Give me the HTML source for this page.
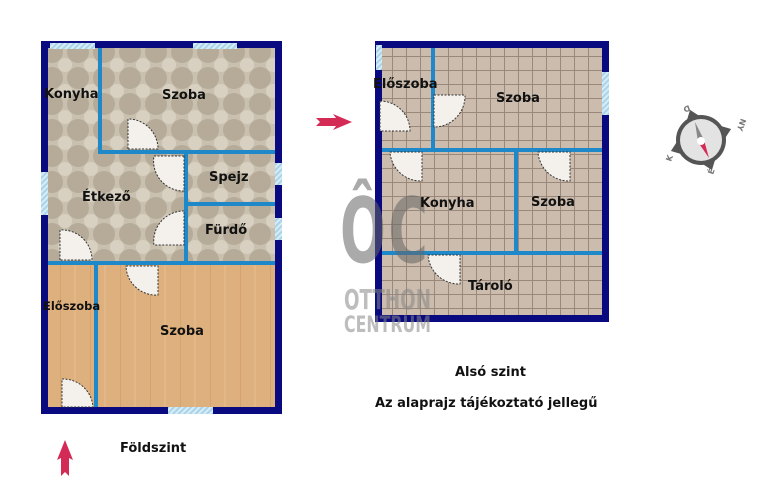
<!DOCTYPE html>
<html><head><meta charset="utf-8"><style>
html,body{margin:0;padding:0;background:#fff;width:776px;height:500px;overflow:hidden}
svg{display:block}
text{font-family:"DejaVu Sans","Liberation Sans",sans-serif;font-weight:bold;fill:#111}
</style></head><body>
<svg width="776" height="500" viewBox="0 0 776 500" xmlns="http://www.w3.org/2000/svg">
<defs>
<pattern id="tile" width="26" height="26" patternUnits="userSpaceOnUse">
<rect width="26" height="26" fill="#c9c0af"/>
<circle cx="0" cy="0" r="11" fill="#b5ab98"/><circle cx="26" cy="0" r="11" fill="#b5ab98"/>
<circle cx="0" cy="26" r="11" fill="#b5ab98"/><circle cx="26" cy="26" r="11" fill="#b5ab98"/>
<circle cx="13" cy="13" r="7" fill="#d8d1c2"/>
</pattern>
<pattern id="wood" width="30" height="60" patternUnits="userSpaceOnUse">
<rect width="30" height="60" fill="#deb07d"/>
<rect x="0" width="1" height="60" fill="#d3a372"/><rect x="14" width="2" height="60" fill="#e3b888"/>
</pattern>
<pattern id="grid" width="14" height="14" patternUnits="userSpaceOnUse">
<rect width="14" height="14" fill="#cbbcad"/>
<rect width="14" height="1" fill="#9a887a"/><rect width="1" height="14" fill="#9a887a"/>
</pattern>
<pattern id="win" width="4" height="4" patternUnits="userSpaceOnUse" patternTransform="rotate(45)">
<rect width="4" height="4" fill="#a8d4ea"/><rect width="2" height="4" fill="#d8ecf6"/>
</pattern>
</defs>

<rect x="41" y="41" width="241" height="373" fill="#0a0a80"/>
<rect x="48" y="48" width="227" height="215" fill="url(#tile)"/>
<rect x="48" y="263" width="227" height="144" fill="url(#wood)"/>
<rect x="50" y="43" width="45" height="6" fill="url(#win)"/>
<rect x="193" y="43" width="44" height="6" fill="url(#win)"/>
<rect x="275" y="163" width="7" height="22" fill="url(#win)"/>
<rect x="275" y="218" width="7" height="22" fill="url(#win)"/>
<rect x="41" y="172" width="7" height="43" fill="url(#win)"/>
<rect x="168" y="407" width="45" height="7" fill="url(#win)"/>
<g fill="#1e88c8">
<rect x="98" y="48" width="4" height="106"/>
<rect x="98" y="150" width="177" height="4"/>
<rect x="184" y="150" width="4" height="115"/>
<rect x="184" y="202" width="91" height="4"/>
<rect x="48" y="261" width="227" height="4"/>
<rect x="94" y="261" width="4" height="146"/>
</g>
<g fill="#f4f1ec" stroke="#333" stroke-width="1" stroke-dasharray="2,1.5">
<path d="M128 149 V119 A30 30 0 0 1 158 149 Z"/>
<path d="M184 156 H154 A30 30 0 0 0 184 191 Z"/>
<path d="M184 211 A30 30 0 0 0 154 245 H184 Z"/>
<path d="M60 260 V230 A30 30 0 0 1 92 260 Z"/>
<path d="M126 266 H158 V295 A30 30 0 0 1 126 266 Z"/>
<path d="M62 407 V379 A30 30 0 0 1 93 407 Z"/>
</g>
<text x="44" y="98" font-size="13">Konyha</text>
<text x="162" y="99" font-size="13">Szoba</text>
<text x="209" y="181" font-size="13">Spejz</text>
<text x="82" y="201" font-size="13">Étkező</text>
<text x="205" y="234" font-size="13">Fürdő</text>
<text x="43" y="310" font-size="11.5">Előszoba</text>
<text x="160" y="335" font-size="13">Szoba</text>

<path d="M316 118 L336 118 L333 114 L352 122 L333 130 L336 126 L316 126 L320 122 Z" fill="#d42a56"/>

<rect x="375" y="41" width="234" height="281" fill="#0a0a80"/>
<rect x="382" y="48" width="220" height="267" fill="url(#grid)"/>
<rect x="376" y="45" width="6" height="25" fill="url(#win)"/>
<rect x="602" y="72" width="7" height="43" fill="url(#win)"/>
<g fill="#1e88c8">
<rect x="431" y="48" width="4" height="104"/>
<rect x="382" y="148" width="220" height="4"/>
<rect x="514" y="148" width="4" height="107"/>
<rect x="382" y="251" width="220" height="4"/>
</g>
<g fill="#f4f1ec" stroke="#333" stroke-width="1" stroke-dasharray="2,1.5">
<path d="M380 101 V131 H410 A30 30 0 0 0 380 101 Z"/>
<path d="M434 95 H465 A31 31 0 0 1 434 127 Z"/>
<path d="M390 152 H422 V181 A31 31 0 0 1 390 152 Z"/>
<path d="M538 152 H570 V181 A31 31 0 0 1 538 152 Z"/>
<path d="M428 255 H460 V284 A31 31 0 0 1 428 255 Z"/>
</g>

<g opacity="0.55">
<text x="0" y="0" font-size="90" transform="translate(340,262) scale(0.6,1)" style="font-family:'DejaVu Sans',sans-serif;font-weight:bold;fill:#666" letter-spacing="4">ÔC</text>
<text x="0" y="0" font-size="28" transform="translate(344,309) scale(0.6,1)" style="font-family:'DejaVu Sans',sans-serif;font-weight:bold;fill:#888" textLength="145" lengthAdjust="spacingAndGlyphs">OTTHON</text>
<text x="0" y="0" font-size="22" transform="translate(344,332) scale(0.6,1)" style="font-family:'DejaVu Sans',sans-serif;font-weight:bold;fill:#888" textLength="145" lengthAdjust="spacingAndGlyphs">CENTRUM</text>
</g>

<text x="373" y="88" font-size="13">Előszoba</text>
<text x="496" y="102" font-size="13">Szoba</text>
<text x="420" y="207" font-size="13">Konyha</text>
<text x="531" y="206" font-size="13">Szoba</text>
<text x="468" y="290" font-size="13">Tároló</text>

<text x="455" y="376" font-size="13">Alsó szint</text>
<text x="375" y="407" font-size="13">Az alaprajz tájékoztató jellegű</text>
<text x="120" y="452" font-size="13">Földszint</text>

<path d="M61 476 L61 458 L57 460 L65 440 L73 460 L69 458 L69 476 L65 472 Z" fill="#d42a56"/>

<g transform="translate(701,140)">
<g transform="rotate(-20)" fill="#555">
<path d="M0 -32 L9 -20 L-9 -20 Z"/><path d="M0 32 L9 20 L-9 20 Z"/>
<path d="M-32 0 L-20 9 L-20 -9 Z"/><path d="M32 0 L20 9 L20 -9 Z"/>
</g>
<circle r="25" fill="#555"/>
<circle r="21" fill="#e3e3e3"/>
<path d="M-6 -18 L3 0 L-3 2 Z" fill="#888"/>
<path d="M3 0 L-3 2 L8 18 Z" fill="#d42a56"/>
<circle cx="0" cy="1" r="4" fill="#fff"/>
<text x="0" y="0" font-size="8" style="fill:#777" transform="translate(-12,-35) rotate(160)">D</text>
<text x="0" y="0" font-size="8" style="fill:#777" transform="translate(40,-22) rotate(110)">NY</text>
<text x="0" y="0" font-size="8" style="fill:#777" transform="translate(-30,22) rotate(-70)">K</text>
<text x="0" y="0" font-size="8" style="fill:#777" transform="translate(12,35) rotate(-70)">É</text>
</g>
</svg>
</body></html>
